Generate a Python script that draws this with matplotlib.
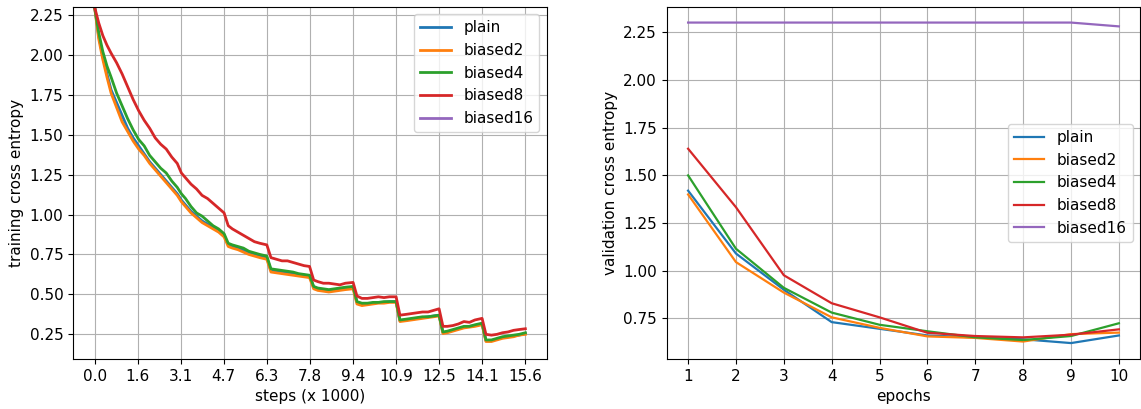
import matplotlib
matplotlib.use('Agg')
import matplotlib.pyplot as plt

plt.rcParams['font.size'] = 11

names = ['plain', 'biased2', 'biased4', 'biased8', 'biased16']
colors = ['tab:blue', 'tab:orange', 'tab:green', 'tab:red', 'tab:purple']

# training loss, x in thousands of steps (one row per epoch)
steps = [0.0, 0.15, 0.3, 0.45, 0.6, 0.8, 1.0, 1.2, 1.4,
         1.6, 1.8, 2.0, 2.2, 2.4, 2.6, 2.8, 3.0,
         3.15, 3.3, 3.5, 3.7, 3.9, 4.1, 4.3, 4.5, 4.7,
         4.85, 5.0, 5.2, 5.4, 5.6, 5.8, 6.0, 6.25,
         6.4, 6.6, 6.8, 7.0, 7.2, 7.4, 7.6, 7.8,
         7.95, 8.1, 8.3, 8.5, 8.7, 8.9, 9.1, 9.38,
         9.52, 9.7, 9.9, 10.1, 10.3, 10.5, 10.7, 10.94,
         11.08, 11.3, 11.5, 11.7, 11.9, 12.1, 12.3, 12.5,
         12.64, 12.8, 13.0, 13.2, 13.4, 13.6, 13.8, 14.06,
         14.2, 14.4, 14.6, 14.8, 15.0, 15.2, 15.4, 15.63]

train_plain = [2.30, 2.12, 1.99, 1.88, 1.78, 1.70, 1.62, 1.54, 1.48,
               1.43, 1.38, 1.33, 1.29, 1.25, 1.21, 1.17, 1.13,
               1.09, 1.06, 1.02, 0.99, 0.96, 0.94, 0.92, 0.90, 0.87,
               0.81, 0.80, 0.79, 0.775, 0.76, 0.75, 0.74, 0.73,
               0.65, 0.645, 0.64, 0.635, 0.63, 0.625, 0.62, 0.615,
               0.545, 0.535, 0.53, 0.525, 0.53, 0.535, 0.54, 0.545,
               0.45, 0.44, 0.44, 0.445, 0.45, 0.45, 0.455, 0.455,
               0.335, 0.34, 0.345, 0.35, 0.355, 0.36, 0.365, 0.37,
               0.26, 0.265, 0.275, 0.285, 0.295, 0.30, 0.305, 0.315,
               0.21, 0.21, 0.22, 0.23, 0.235, 0.24, 0.245, 0.255]

train_biased2 = [2.30, 2.10, 1.97, 1.86, 1.76, 1.67, 1.58, 1.52, 1.46,
                 1.41, 1.37, 1.32, 1.28, 1.24, 1.20, 1.16, 1.12,
                 1.08, 1.05, 1.01, 0.98, 0.95, 0.93, 0.91, 0.89, 0.86,
                 0.80, 0.79, 0.78, 0.765, 0.75, 0.74, 0.73, 0.72,
                 0.64, 0.635, 0.63, 0.625, 0.62, 0.615, 0.61, 0.605,
                 0.535, 0.525, 0.52, 0.515, 0.52, 0.525, 0.53, 0.535,
                 0.44, 0.43, 0.435, 0.44, 0.445, 0.445, 0.45, 0.45,
                 0.33, 0.335, 0.34, 0.345, 0.35, 0.355, 0.36, 0.365,
                 0.255, 0.26, 0.27, 0.28, 0.29, 0.295, 0.30, 0.31,
                 0.205, 0.205, 0.215, 0.225, 0.23, 0.235, 0.245, 0.25]

train_biased4 = [2.30, 2.14, 2.02, 1.93, 1.86, 1.76, 1.68, 1.60, 1.53,
                 1.47, 1.43, 1.37, 1.33, 1.29, 1.26, 1.21, 1.17,
                 1.13, 1.10, 1.05, 1.01, 0.99, 0.96, 0.93, 0.91, 0.88,
                 0.82, 0.81, 0.80, 0.79, 0.77, 0.76, 0.75, 0.74,
                 0.66, 0.655, 0.65, 0.645, 0.64, 0.63, 0.625, 0.62,
                 0.55, 0.54, 0.535, 0.53, 0.535, 0.54, 0.545, 0.55,
                 0.455, 0.445, 0.445, 0.45, 0.45, 0.455, 0.455, 0.455,
                 0.34, 0.345, 0.35, 0.355, 0.36, 0.36, 0.365, 0.37,
                 0.265, 0.27, 0.28, 0.29, 0.30, 0.30, 0.31, 0.32,
                 0.215, 0.215, 0.225, 0.235, 0.24, 0.245, 0.25, 0.26]

train_biased8 = [2.30, 2.20, 2.12, 2.06, 2.01, 1.95, 1.88, 1.80, 1.72,
                 1.65, 1.59, 1.54, 1.48, 1.44, 1.41, 1.36, 1.32,
                 1.26, 1.23, 1.19, 1.16, 1.12, 1.10, 1.07, 1.04, 1.01,
                 0.93, 0.91, 0.89, 0.87, 0.85, 0.83, 0.82, 0.81,
                 0.73, 0.72, 0.71, 0.71, 0.70, 0.69, 0.68, 0.675,
                 0.59, 0.58, 0.57, 0.57, 0.565, 0.56, 0.57, 0.575,
                 0.49, 0.475, 0.475, 0.48, 0.485, 0.48, 0.485, 0.485,
                 0.37, 0.375, 0.38, 0.385, 0.39, 0.39, 0.40, 0.41,
                 0.30, 0.30, 0.305, 0.315, 0.33, 0.325, 0.34, 0.35,
                 0.25, 0.245, 0.25, 0.26, 0.265, 0.275, 0.28, 0.285]

steps16 = [0.0, 15.63]
train_biased16 = [2.303, 2.303]

# validation loss per epoch
epochs = [1, 2, 3, 4, 5, 6, 7, 8, 9, 10]
val_plain = [1.42, 1.09, 0.90, 0.73, 0.695, 0.66, 0.65, 0.64, 0.62, 0.66]
val_biased2 = [1.40, 1.045, 0.885, 0.755, 0.70, 0.655, 0.647, 0.628, 0.667, 0.675]
val_biased4 = [1.50, 1.115, 0.91, 0.78, 0.716, 0.682, 0.65, 0.636, 0.657, 0.724]
val_biased8 = [1.64, 1.333, 0.976, 0.829, 0.755, 0.674, 0.657, 0.65, 0.664, 0.692]
val_biased16 = [2.302, 2.302, 2.302, 2.302, 2.302, 2.302, 2.302, 2.302, 2.302, 2.282]

epoch_ticks = [0.0, 1.5625, 3.125, 4.6875, 6.25, 7.8125, 9.375, 10.9375, 12.5, 14.0625, 15.625]
epoch_labels = ['0.0', '1.6', '3.1', '4.7', '6.3', '7.8', '9.4', '10.9', '12.5', '14.1', '15.6']

fig, (ax1, ax2) = plt.subplots(1, 2, figsize=(11.41, 4.09), dpi=100)
fig.subplots_adjust(left=0.064, right=0.9995, bottom=0.122, top=0.984, wspace=0.2525)

train = [train_plain, train_biased2, train_biased4, train_biased8]
for name, col, ys in zip(names[:4], colors[:4], train):
    ax1.plot(steps, ys, color=col, label=name, linewidth=2)
ax1.plot(steps16, train_biased16, color=colors[4], label=names[4], linewidth=2)
ax1.set_xticks(epoch_ticks)
ax1.set_xticklabels(epoch_labels)
ax1.set_ylim(0.095, 2.302)
ax1.set_xlabel('steps (x 1000)')
ax1.set_ylabel('training cross entropy')
ax1.grid(True)
ax1.legend(loc='upper right')

val = [val_plain, val_biased2, val_biased4, val_biased8, val_biased16]
for name, col, ys in zip(names, colors, val):
    ax2.plot(epochs, ys, color=col, label=name, linewidth=1.6)
ax2.set_xticks(epochs)
ax2.set_xlabel('epochs')
ax2.set_ylabel('validation cross entropy')
ax2.grid(True)
ax2.legend(loc='center right')

fig.savefig('out.png', dpi=100)
